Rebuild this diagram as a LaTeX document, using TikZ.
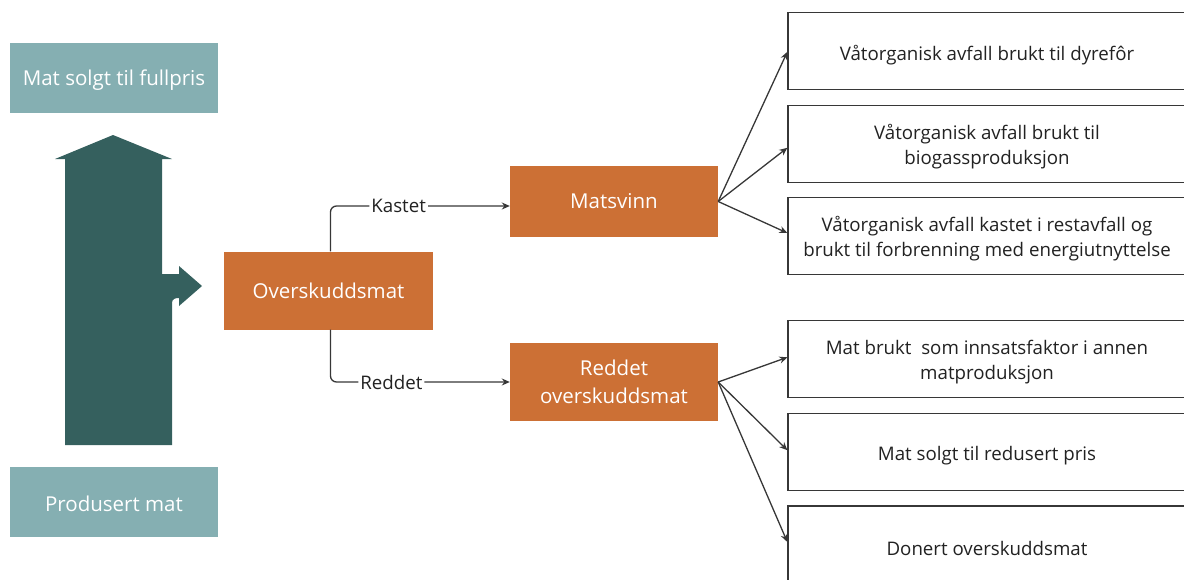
\documentclass[tikz,border=0pt]{standalone}
\usepackage{fontspec}
\setmainfont{Open Sans}
\usetikzlibrary{arrows.meta,calc}
\definecolor{teallight}{RGB}{133,175,178}
\definecolor{tealdark}{RGB}{53,96,94}
\definecolor{orng}{RGB}{204,112,53}
\definecolor{edge}{RGB}{55,55,55}
\definecolor{txt}{RGB}{34,34,34}
\begin{document}
\begin{tikzpicture}[x=1pt,y=-1pt,
  tealbox/.style={fill=teallight, minimum width=208pt, minimum height=70pt, inner sep=0pt},
  ttxt/.style={text=white, inner sep=0pt, align=center, font=\fontsize{20.5}{26}\selectfont, yshift=-2pt},
  orbox/.style={fill=orng, text=white, minimum width=208pt, inner sep=0pt, align=center, font=\fontsize{20.5}{28}\selectfont},
  outbox/.style={draw=edge, line width=1.3pt, fill=white, minimum width=398pt, minimum height=77pt, inner sep=0pt},
  btxt/.style={inner sep=0pt, align=center, text=txt, font=\fontsize{18.7}{25}\selectfont},
  conn/.style={draw=edge, line width=1.3pt, -{Stealth[length=8pt,width=7pt]}},
  lbl/.style={fill=white, inner sep=2pt, text=txt, font=\fontsize{18.7}{20}\selectfont}
]
\useasboundingbox (0,0) rectangle (1184,579);
\begin{scope}
\clip (0,0) rectangle (1184,579);
% big arrow
\fill[tealdark] (65,445) -- (172,445) -- (172,303) .. controls (172,299) and (175,298) .. (179,298)
  -- (179,306) -- (202,286) -- (179,266) -- (179,274) -- (162,274) -- (162,159)
  -- (172,159) -- (113,135) -- (55,159) -- (65,159) -- cycle;

\node[tealbox, label={[ttxt]center:{Mat solgt til fullpris}}] (full) at (114,78) {};
\node[tealbox, label={[ttxt]center:{Produsert mat}}] (prod) at (114,502) {};
\node[orbox, minimum width=209pt, minimum height=78pt] (over) at (328.5,290.5) {Overskuddsmat};
\node[orbox, minimum height=71pt] (mats) at (614,201.5) {Matsvinn};
\node[orbox, minimum height=78pt] (redd) at (614,382) {Reddet\\overskuddsmat};

\node[outbox, label={[btxt,yshift=-4pt]center:{Våtorganisk avfall brukt til dyrefôr}}] (b1) at (987,50.8) {};
\node[outbox, label={[btxt,yshift=-2.5pt]center:{Våtorganisk avfall brukt til\\biogassproduksjon}}] (b2) at (987,143.8) {};
\node[outbox, label={[btxt,yshift=-2.5pt]center:{Våtorganisk avfall kastet i restavfall og\\brukt til forbrenning med energiutnyttelse}}] (b3) at (987,236) {};
\node[outbox, label={[btxt,yshift=-2.5pt]center:{Mat brukt \ som innsatsfaktor i annen\\matproduksjon}}] (b4) at (987,359.3) {};
\node[outbox, label={[btxt,yshift=-4pt]center:{Mat solgt til redusert pris}}] (b5) at (987,451.7) {};
\node[outbox, label={[btxt,yshift=-4pt]center:{Donert overskuddsmat}}] (b6) at (987,544.5) {};

\draw[conn, rounded corners=6pt] ([xshift=2pt]over.north) |- node[lbl, pos=0.69] {Kastet} ($(mats.west)+(0,4.5)$);
\draw[conn, rounded corners=6pt] ([xshift=2pt]over.south) |- node[lbl, pos=0.67] {Reddet} (redd.west);

\draw[conn] (mats.east) -- ($(b1.west)+(0,1)$);
\draw[conn] (mats.east) -- ($(b2.west)+(0,4)$);
\draw[conn] (mats.east) -- ($(b3.west)+(0,-3)$);
\draw[conn] (redd.east) -- ($(b4.west)+(0,-2)$);
\draw[conn] (redd.east) -- ($(b5.west)+(0,-1.5)$);
\draw[conn] (redd.east) -- ($(b6.west)+(0,-2.5)$);
\end{scope}
\end{tikzpicture}
\end{document}
